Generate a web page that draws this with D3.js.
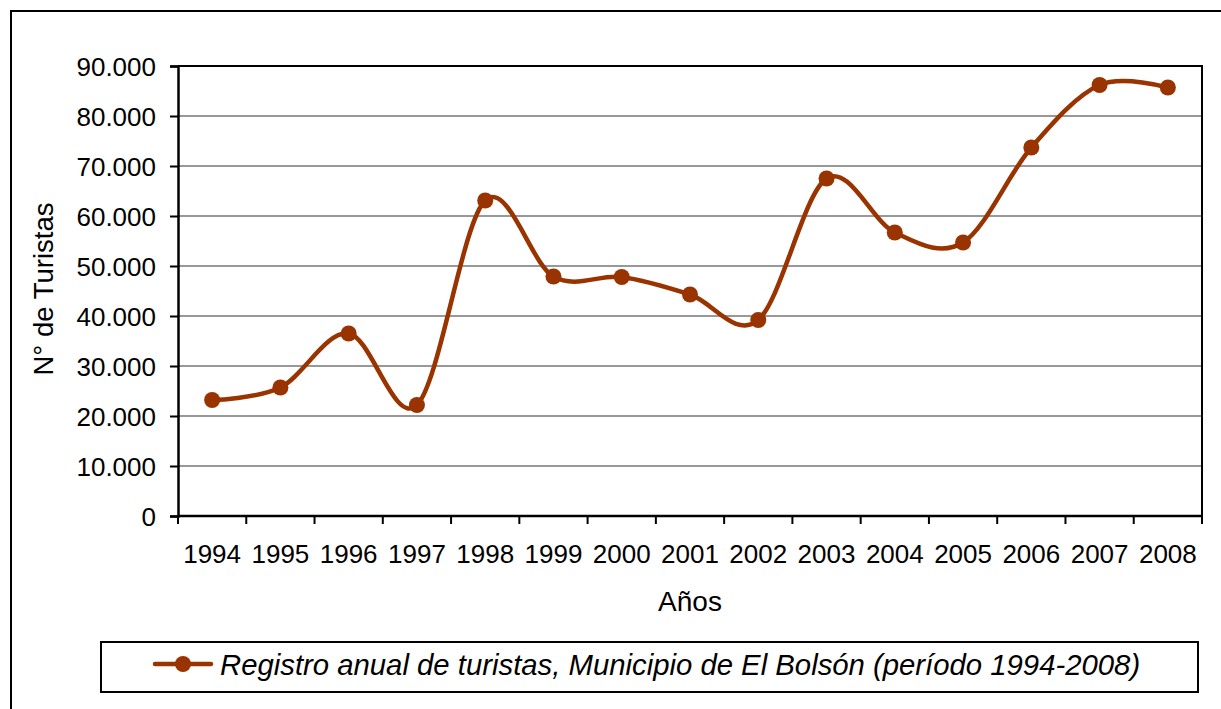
<!DOCTYPE html>
<html>
<head>
<meta charset="utf-8">
<script src="https://cdn.jsdelivr.net/npm/d3@7"></script>
<style>
  html, body { margin: 0; padding: 0; background: #fff; }
  svg { display: block; }
  text { font-family: "Liberation Sans", Arial, sans-serif; fill: #000; }
</style>
</head>
<body>
<svg id="chart" width="1221" height="709"></svg>
<script>
// Annual tourist registrations, El Bolsón
const years = ["1994","1995","1996","1997","1998","1999","2000","2001","2002","2003","2004","2005","2006","2007","2008"];
const tourists = [23200, 25700, 36500, 22200, 63100, 47900, 47800, 44300, 39200, 67500, 56700, 54700, 73700, 86200, 85700];
const yTicks = [0, 10000, 20000, 30000, 40000, 50000, 60000, 70000, 80000, 90000];
const seriesName = "Registro anual de turistas, Municipio de El Bolsón (período 1994-2008)";
const xTitle = "Años";
const yTitle = "N° de Turistas";

const lineColor = "#993300";
const svg = d3.select("#chart");

const plot = { left: 178, right: 1202, top: 66, bottom: 516 };

const x = d3.scaleBand().domain(years).range([plot.left, plot.right]).padding(0);
const y = d3.scaleLinear().domain([0, 90000]).range([plot.bottom, plot.top]);

const fmt = d3.formatLocale({ decimal: ",", thousands: ".", grouping: [3], currency: ["", ""] }).format(",");

// Outer chart frame
svg.append("rect")
  .attr("x", 11).attr("y", 11).attr("width", 1230).attr("height", 720)
  .attr("fill", "none").attr("stroke", "#000").attr("stroke-width", 2);

// Horizontal gridlines
svg.append("g").selectAll("line")
  .data(yTicks.filter(d => d > 0 && d < 90000))
  .join("line")
  .attr("x1", plot.left).attr("x2", plot.right)
  .attr("y1", d => y(d)).attr("y2", d => y(d))
  .attr("stroke", "#989898").attr("stroke-width", 2);

// Plot area border (top and right)
svg.append("path")
  .attr("d", `M${plot.left},${y(90000)}H${plot.right}V${plot.bottom}`)
  .attr("fill", "none").attr("stroke", "#000").attr("stroke-width", 2);

// Y axis
const yAxis = svg.append("g")
  .attr("transform", `translate(${plot.left},0)`)
  .call(d3.axisLeft(y).tickValues(yTicks).tickFormat(fmt).tickSize(8).tickPadding(14));
yAxis.select(".domain").attr("stroke", "#000").attr("stroke-width", 2.5);
yAxis.selectAll(".tick line").attr("stroke", "#000").attr("stroke-width", 2);
yAxis.selectAll(".tick text")
  .attr("font-size", 26).attr("font-family", "Liberation Sans, Arial, sans-serif")
  .attr("fill", "#000").attr("dy", "0.36em");

// X axis: ticks on category boundaries, labels centered in each band
const xAxisG = svg.append("g").attr("transform", `translate(0,${plot.bottom})`);
xAxisG.append("line")
  .attr("x1", plot.left).attr("x2", plot.right)
  .attr("stroke", "#000").attr("stroke-width", 2.5);
const boundaries = years.map(d => x(d)).concat([x(years[years.length - 1]) + x.bandwidth()]);
xAxisG.selectAll("line.tick")
  .data(boundaries)
  .join("line")
  .attr("class", "tick")
  .attr("x1", d => d).attr("x2", d => d)
  .attr("y1", 0).attr("y2", 8)
  .attr("stroke", "#000").attr("stroke-width", 2);
xAxisG.selectAll("text")
  .data(years)
  .join("text")
  .attr("x", d => x(d) + x.bandwidth() / 2)
  .attr("y", 46.5)
  .attr("text-anchor", "middle")
  .attr("font-size", 26)
  .text(d => d);

// Axis titles
svg.append("text")
  .attr("x", (plot.left + plot.right) / 2).attr("y", 611)
  .attr("text-anchor", "middle").attr("font-size", 28)
  .text(xTitle);
svg.append("text")
  .attr("transform", "translate(53,289) rotate(-90)")
  .attr("text-anchor", "middle").attr("font-size", 27.5)
  .text(yTitle);

// Smoothed series line and markers
const cx = d => x(d) + x.bandwidth() / 2;
const line = d3.line()
  .x((d, i) => cx(years[i]))
  .y(d => y(d))
  .curve(d3.curveCardinal.tension(0));

svg.append("path")
  .datum(tourists)
  .attr("d", line)
  .attr("fill", "none")
  .attr("stroke", lineColor)
  .attr("stroke-width", 4.5)
  .attr("stroke-linejoin", "round")
  .attr("stroke-linecap", "round");

svg.append("g").selectAll("circle")
  .data(tourists)
  .join("circle")
  .attr("cx", (d, i) => cx(years[i]))
  .attr("cy", d => y(d))
  .attr("r", 8)
  .attr("fill", lineColor);

// Legend
const legend = svg.append("g");
legend.append("rect")
  .attr("x", 101).attr("y", 642).attr("width", 1097).attr("height", 50)
  .attr("fill", "#fff").attr("stroke", "#000").attr("stroke-width", 2);
legend.append("line")
  .attr("x1", 155).attr("x2", 211).attr("y1", 664).attr("y2", 664)
  .attr("stroke", lineColor).attr("stroke-width", 4.5).attr("stroke-linecap", "round");
legend.append("circle")
  .attr("cx", 183).attr("cy", 664).attr("r", 8).attr("fill", lineColor);
legend.append("text")
  .attr("x", 220).attr("y", 675)
  .attr("font-size", 29.3).attr("font-style", "italic")
  .text(seriesName);
</script>
</body>
</html>
